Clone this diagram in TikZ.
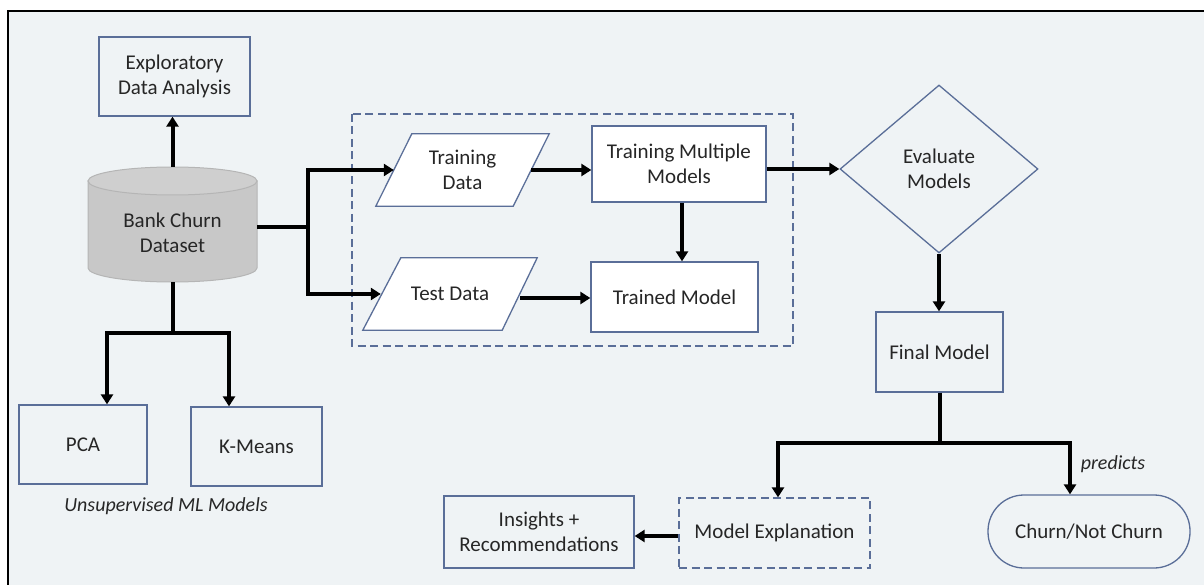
\documentclass[tikz,border=0pt]{standalone}
\usepackage{fontspec}
\setmainfont{Carlito}
\usetikzlibrary{arrows.meta,shapes.geometric,calc}
\definecolor{bg}{HTML}{EFF3F5}
\definecolor{bord}{HTML}{5A6E98}
\definecolor{txt}{HTML}{262626}
\definecolor{cylfill}{HTML}{C8C8C8}
\definecolor{cyltop}{HTML}{CFCFCF}
\definecolor{cylline}{HTML}{B5B5B5}
\tikzset{
  base/.style={font=\fontsize{21}{25}\selectfont, text=txt, align=center, inner sep=0pt},
  box/.style={base, draw=bord, line width=1.3pt, rectangle, fill=bg},
  wbox/.style={box, fill=white},
  para/.style={base, rectangle, minimum height=72pt},
  paraline/.style={draw=bord, line width=1.3pt, fill=white},
  dbox/.style={box, dash pattern=on 8pt off 4.5pt},
  arr/.style={line width=4pt, -{Triangle[length=10pt,width=12pt]}},
  conn/.style={line width=4pt},
  note/.style={font=\fontsize{20}{23}\selectfont\itshape, text=txt, inner sep=0pt},
}
\begin{document}
\begin{tikzpicture}[x=1pt,y=-1pt]
\useasboundingbox (0,0) rectangle (1204,585);
\fill[white] (0,0) rectangle (1204,585);
\fill[bg] (8,11) rectangle (1204,585);
\draw[black, line width=2pt] (8,585) -- (8,11) -- (1204,11);

% dashed group
\draw[bord, line width=1.3pt, dash pattern=on 8pt off 4.5pt] (352,114) rectangle (793,346);

% cylinder
\node[base, minimum width=169pt, minimum height=115pt] (db) at (172.5,224.5) {};
\fill[cylfill, draw=cylline, line width=1pt] (88,181) -- (88,268) .. controls (88,275.7) and (125.8,282) .. (172.5,282) .. controls (219.2,282) and (257,275.7) .. (257,268) -- (257,181) -- cycle;
\fill[cyltop, draw=cylline, line width=1pt] (172.5,181) ellipse [x radius=84.5pt, y radius=14pt];
\node[base] (dbt) at (172.5,233) {Bank Churn\\Dataset};

\node[box, minimum width=151pt, minimum height=79pt] (eda) at (174.5,76.5) {Exploratory\\Data Analysis};
\node[box, minimum width=128pt, minimum height=79pt] (pca) at (83,444.5) {PCA};
\node[box, minimum width=131pt, minimum height=79pt] (km) at (256.5,446.5) {K-Means};
\node[note] (uns) at (166,506) {Unsupervised ML Models};

\node[para, minimum width=173pt] (td) at (462.5,170) {};
\node[para, minimum width=174pt] (ted) at (450,294) {};
\path[paraline] (td.south west) -- ($(td.north west)+(36,0)$) -- (td.north east) -- ($(td.south east)+(-36,0)$) -- cycle;
\path[paraline] (ted.south west) -- ($(ted.north west)+(38,0)$) -- (ted.north east) -- ($(ted.south east)+(-35,0)$) -- cycle;
\node[base] (tdt) at (td.center) {Training\\Data};
\node[base] (tedt) at (ted.center) {Test Data};
\node[wbox, minimum width=174pt, minimum height=76pt] (tmm) at (679,164) {Training Multiple\\Models};
\node[wbox, minimum width=167pt, minimum height=70pt] (tm) at (674.5,297) {Trained Model};

\node[base, draw=bord, line width=1.3pt, fill=bg, diamond, minimum width=198pt, minimum height=168pt] (ev) at (939,169) {Evaluate\\Models};
\node[box, minimum width=127pt, minimum height=80pt] (fm) at (939.5,352) {Final Model};
\node[box, minimum width=190pt, minimum height=72pt] (ins) at (539,532) {Insights +\\Recommendations};
\node[dbox, minimum width=191pt, minimum height=70pt] (me) at (774.5,533) {Model Explanation};
\node[box, rounded corners=36pt, minimum width=202pt, minimum height=73pt] (ch) at (1089,531.5) {Churn/Not Churn};
\node[note] (pr) at (1113,464) {predicts};

% connectors
\draw[arr] (db.north) -- (db.north |- eda.south);
\coordinate (s1) at (308,227);
\draw[conn] (db.east |- s1) -- (s1);
\draw[arr] (s1) |- ($(td.west)+(18,0)$);
\draw[arr] (s1) |- ($(ted.west)+(18,0)$);
\draw[arr] ($(td.east)+(-18,0)$) -- (td.east -| tmm.west);
\draw[arr] ($(tmm.south)+(3,0)$) -- ($(tm.north)+(7.5,0)$);
\draw[arr] ($(ted.east)+(-17,4)$) -- ($(tm.west)+(0,1)$);
\draw[arr] (tmm.east |- ev.west) -- (ev.west);
\draw[arr] (ev.south) -- (ev.south |- fm.north);
\coordinate (j2) at (940,443);
\draw[conn] (fm.south -| j2) -- (j2);
\draw[arr] (j2) -| ($(me.north)+(3.5,0)$);
\draw[arr] (j2) -| ($(ch.north)+(-19,0)$);
\draw[arr] (me.west |- 0,536) -- (ins.east |- 0,536);
\coordinate (j1) at (172.5,333);
\draw[conn] (db.south) -- (j1);
\draw[arr] (j1) -| ($(pca.north)+(24,0)$);
\draw[arr] (j1) -| ($(km.north)+(-27.5,0)$);
\end{tikzpicture}
\end{document}
